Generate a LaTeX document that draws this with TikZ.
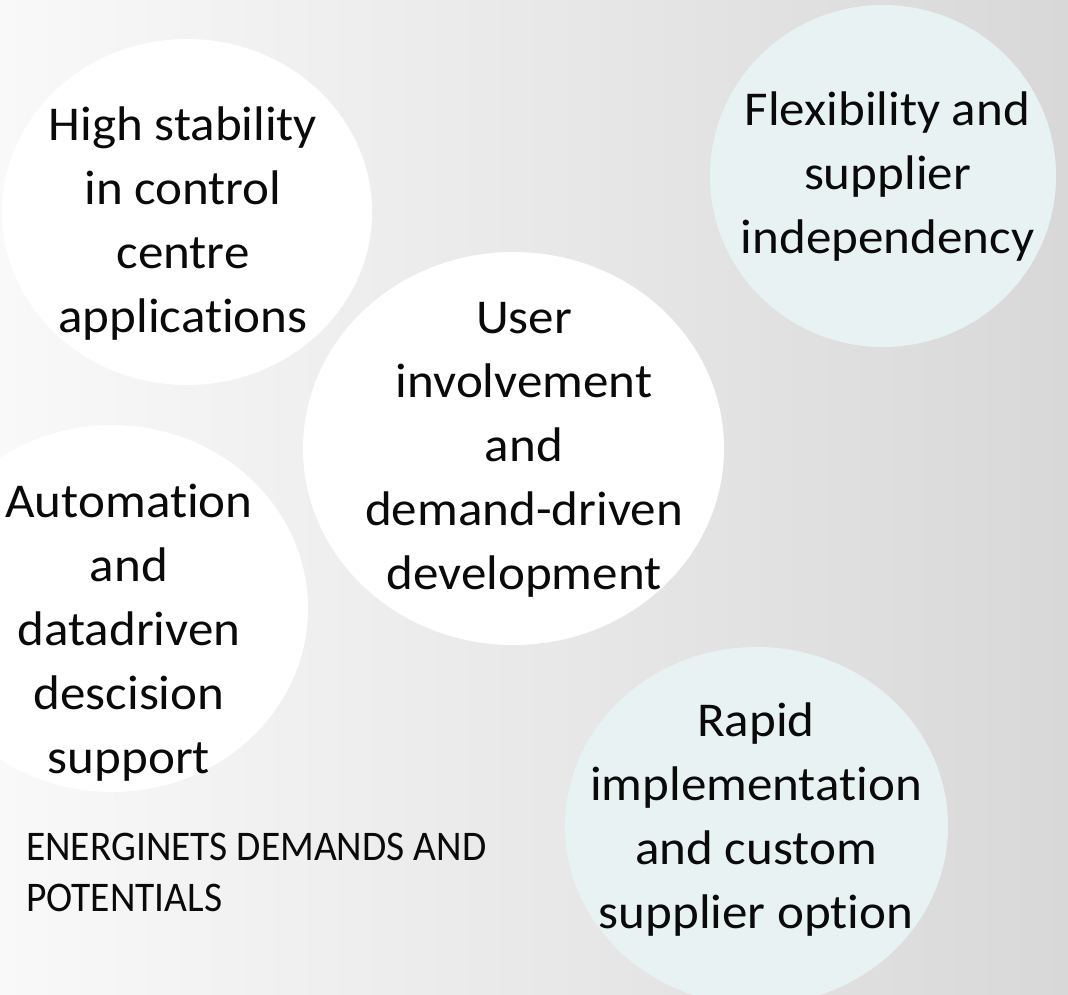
\documentclass[tikz,border=0pt]{standalone}
\usepackage{fontspec}
\setmainfont{Carlito}[FakeStretch=1.05, RawFeature=-liga]
\newfontfamily\titlefont{Carlito}[FakeStretch=0.935, RawFeature=-liga]
\usetikzlibrary{shapes.geometric}
\definecolor{bgleft}{HTML}{F9F9F9}
\definecolor{bgright}{HTML}{D8D8D8}
\definecolor{tealpale}{HTML}{E9F2F2}
\definecolor{inktext}{HTML}{0A0A0A}
\tikzset{
  bubble/.style={ellipse, inner sep=0pt, draw=none},
  whitebubble/.style={bubble, fill=white},
  tealbubble/.style={bubble, fill=tealpale},
  bubbletext/.style={anchor=north, inner sep=0pt, align=center, text=inktext,
    font=\fontsize{48.6}{64}\selectfont},
  titletext/.style={anchor=north west, inner sep=0pt, align=left, text=inktext,
    font=\titlefont\fontsize{42.2}{51}\selectfont}
}
\newcommand{\topstrut}{\rule{0pt}{40pt}}
\begin{document}
\begin{tikzpicture}[x=1pt,y=-1pt]
\useasboundingbox (0,0) rectangle (1068,994);
\shade[left color=bgleft, right color=bgright] (0,0) rectangle (1068,994);
\begin{scope}
\clip (0,0) rectangle (1068,994);
\node[whitebubble, minimum width=370pt, minimum height=346pt] (c1) at (187,212) {};
\node[tealbubble, minimum width=346pt, minimum height=342pt] (c2) at (883,176) {};
\node[whitebubble, minimum width=421pt, minimum height=393pt] (c3) at (513.5,448.5) {};
\node[whitebubble, minimum width=392pt, minimum height=367pt] (c4) at (112,608.5) {};
\node[tealbubble, minimum width=383pt, minimum height=358pt] (c5) at (756.5,826) {};
\end{scope}
\node[bubbletext] (t1) at (183,100) {\topstrut High stability\\in control\\centre\\applications};
\node[bubbletext] (t2) at (887.5,85) {\topstrut Flexibility and\\supplier\\independency};
\node[bubbletext] (t3) at (524,293) {\topstrut User\\involvement\\and\\demand-driven\\development};
\node[bubbletext] (t4) at (129,477) {\topstrut Automation\\and\\datadriven\\descision\\support};
\node[bubbletext] (t5) at (756,696) {\topstrut Rapid\\implementation\\and custom\\supplier option};
\node[titletext] (title) at (26,820) {\topstrut ENERGINETS DEMANDS AND\\POTENTIALS};
\end{tikzpicture}
\end{document}
